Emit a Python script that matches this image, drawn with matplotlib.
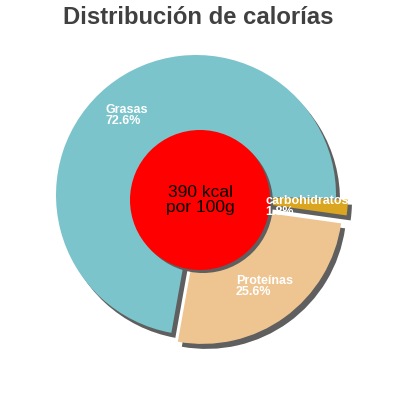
import matplotlib
matplotlib.use('Agg')
import matplotlib.pyplot as plt
from matplotlib.patches import Circle

plt.rcParams['font.family'] = ['Liberation Sans', 'DejaVu Sans']

# datos
labels = ['Grasas', 'Proteínas', 'carbohidratos']
percents = [72.6, 25.6, 1.8]
colors = ['#7bc4cc', '#eec591', '#daa520']
kcal = 390

fig = plt.figure(figsize=(4, 4), dpi=100)
ax = fig.add_axes([0, 0, 1, 1])

center = (196, 205)
radius = 140
explode = [0, 11, 12]
shadow = '#5f5f5f'
start = -1.5

# sombra
ax.pie(percents, colors=[shadow] * 3, startangle=start, center=(center[0] + 4, center[1] - 5),
       radius=radius, explode=explode, frame=True, wedgeprops=dict(linewidth=0))
# tarta
ax.pie(percents, colors=colors, startangle=start, center=center,
       radius=radius, explode=explode, frame=True, wedgeprops=dict(linewidth=0))
ax.set_xlim(0, 400)
ax.set_ylim(0, 400)
ax.set_aspect('equal')
ax.axis('off')

# etiquetas
label_pos = [(105, 296), (236, 125), (265, 205)]
for lab, p, pos in zip(labels, percents, label_pos):
    ax.text(pos[0], pos[1], f'{lab}\n{p}%', color='white', fontsize=9, fontweight='bold',
            ha='left', va='top', linespacing=0.9, zorder=5)

# circulo central
ax.add_patch(Circle((203, 197), 70, color=shadow, zorder=3, linewidth=0))
ax.add_patch(Circle((200, 200), 70, color='#ff0000', zorder=4, linewidth=0))
ax.text(200, 200, f'{kcal} kcal\npor 100g', ha='center', va='center',
        fontsize=12.5, color='black', linespacing=1.0, zorder=6)

fig.text(0.495, 0.955, 'Distribución de calorías', ha='center', va='center',
         fontsize=17.2, fontweight='bold', color='#404040')

fig.savefig('out.png', dpi=100)
